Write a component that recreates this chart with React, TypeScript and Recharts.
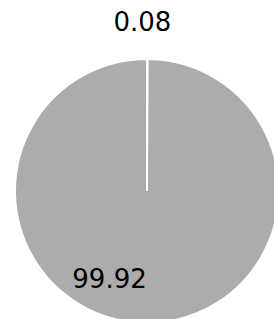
import { PieChart, Pie, Cell } from "recharts";

const SLICE_NAMES = ["small", "large"];
const SLICE_VALUES = [0.08, 99.92];

const RAD = Math.PI / 180;

function SliceLabel(props: {
  cx: number; cy: number; midAngle: number; outerRadius: number; index: number; value: number;
}) {
  const { cx, cy, midAngle, outerRadius, index, value } = props;
  // tiny slice gets its label outside, the big one sits inside
  const r = index === 0 ? outerRadius + 37 : outerRadius * 0.67;
  const x = cx + r * Math.cos(-midAngle * RAD);
  const y = cy + r * Math.sin(-midAngle * RAD);
  const anchor = index === 0 ? "middle" : x > cx ? "start" : "end";
  return (
    <text
      x={index === 0 ? x - 5 : x}
      y={y}
      textAnchor={anchor}
      dominantBaseline="central"
      fill="#000"
      fontSize={26}
      fontFamily="DejaVu Sans, sans-serif"
    >
      {value.toFixed(2)}
    </text>
  );
}

export default function App() {
  const data = SLICE_NAMES.map((name, i) => ({ name, value: SLICE_VALUES[i] }));
  return (
    <div style={{ position: "absolute", left: 0, top: 0, width: 274, height: 319, background: "#fff" }}>
      <PieChart width={274} height={319}>
        <Pie
          data={data}
          dataKey="value"
          cx={142}
          cy={186}
          outerRadius={132}
          startAngle={90}
          endAngle={-270}
          stroke="#fff"
          strokeWidth={2}
          label={SliceLabel}
          labelLine={false}
          isAnimationActive={false}
        >
          {data.map((d) => (
            <Cell key={d.name} fill="#acacac" />
          ))}
        </Pie>
      </PieChart>
    </div>
  );
}
